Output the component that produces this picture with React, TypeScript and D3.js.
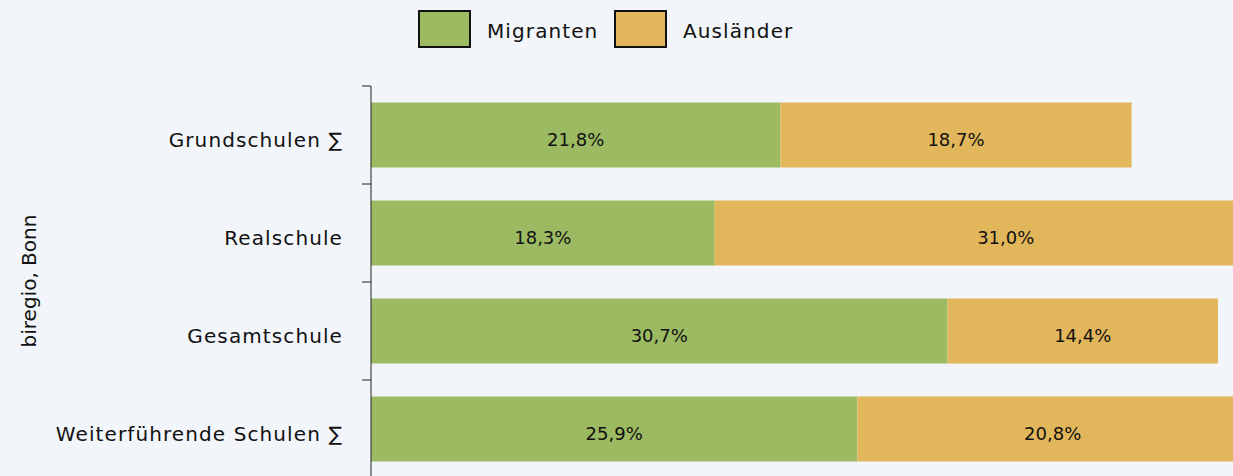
import * as d3 from "d3";
import React, { useEffect, useRef } from "react";

const categories = [
  "Grundschulen ∑",
  "Realschule",
  "Gesamtschule",
  "Weiterführende Schulen ∑",
];
const migranten = [21.8, 18.3, 30.7, 25.9];
const auslaender = [18.7, 31.0, 14.4, 20.8];
const seriesNames = ["Migranten", "Ausländer"];

const colors = ["#9cba62", "#e2b65a"];
const font = "'DejaVu Sans', sans-serif";

export default function App() {
  const width = 1233,
    height = 476;
  const margin = { top: 86, left: 371 };

  const y = d3
    .scaleBand()
    .domain(categories)
    .range([margin.top, margin.top + 392])
    .paddingInner(0.337)
    .paddingOuter(0.1685);

  const x = d3.scaleLinear().domain([0, 50]).range([margin.left, margin.left + 939]);

  const yAxisRef = useRef<SVGGElement | null>(null);

  useEffect(() => {
    if (!yAxisRef.current) return;
    const g = d3.select(yAxisRef.current);
    g.selectAll("*").remove();
    const step = y.step();
    // axis line
    g.append("line")
      .attr("x1", margin.left)
      .attr("x2", margin.left)
      .attr("y1", margin.top)
      .attr("y2", height + 10)
      .attr("stroke", "#222")
      .attr("stroke-width", 1);
    // ticks at band boundaries
    categories.forEach((c) => {
      const ty = (y(c) as number) - (y.paddingInner() * step) / 2;
      g.append("line")
        .attr("x1", margin.left - 9)
        .attr("x2", margin.left)
        .attr("y1", ty)
        .attr("y2", ty)
        .attr("stroke", "#222");
      g.append("text")
        .attr("x", margin.left - 28)
        .attr("y", (y(c) as number) + y.bandwidth() / 2 + 5)
        .attr("dy", "0.35em")
        .attr("text-anchor", "end")
        .attr("font-size", 20)
        .attr("letter-spacing", 1.1)
        .attr("font-family", font)
        .attr("fill", "#111")
        .text(c);
    });
  }, []);

  const stacks = categories.map((c, i) => {
    const vals = [migranten[i], auslaender[i]];
    let acc = 0;
    return vals.map((v, k) => {
      const s = { cat: c, k, v, x0: acc, x1: acc + v };
      acc += v;
      return s;
    });
  });

  return (
    <svg
      width={width}
      height={height}
      style={{ position: "absolute", left: 0, top: 0, background: "#f2f5f9" }}
    >
      <rect x={0} y={0} width={width} height={height} fill="#f2f5f9" />
      {/* legend */}
      {seriesNames.map((name, k) => {
        const lx = 419 + k * 196;
        return (
          <g key={name}>
            <rect
              x={lx}
              y={11}
              width={51}
              height={36}
              fill={colors[k]}
              stroke="#111"
              strokeWidth={2}
            />
            <text
              x={lx + 68}
              y={31}
              dy="0.35em"
              fontSize={20}
              letterSpacing={1.1}
              fontFamily={font}
              fill="#111"
            >
              {name}
            </text>
          </g>
        );
      })}
      {/* bars */}
      {stacks.map((segs) =>
        segs.map((s) => (
          <g key={s.cat + s.k}>
            <rect
              x={x(s.x0)}
              y={y(s.cat)}
              width={x(s.x1) - x(s.x0)}
              height={y.bandwidth()}
              fill={colors[s.k]}
            />
            <text
              x={(x(s.x0) + x(s.x1)) / 2}
              y={(y(s.cat) as number) + y.bandwidth() / 2 + 5}
              dy="0.35em"
              textAnchor="middle"
              fontSize={18}
              fontFamily={font}
              fill="#111"
            >
              {s.v.toFixed(1).replace(".", ",") + "%"}
            </text>
          </g>
        ))
      )}
      <g ref={yAxisRef}></g>
      <text
        transform={`translate(29, ${margin.top + 195}) rotate(-90)`}
        textAnchor="middle"
        dy="0.35em"
        fontSize={20}
        fontFamily={font}
        fill="#111"
      >
        biregio, Bonn
      </text>
    </svg>
  );
}
